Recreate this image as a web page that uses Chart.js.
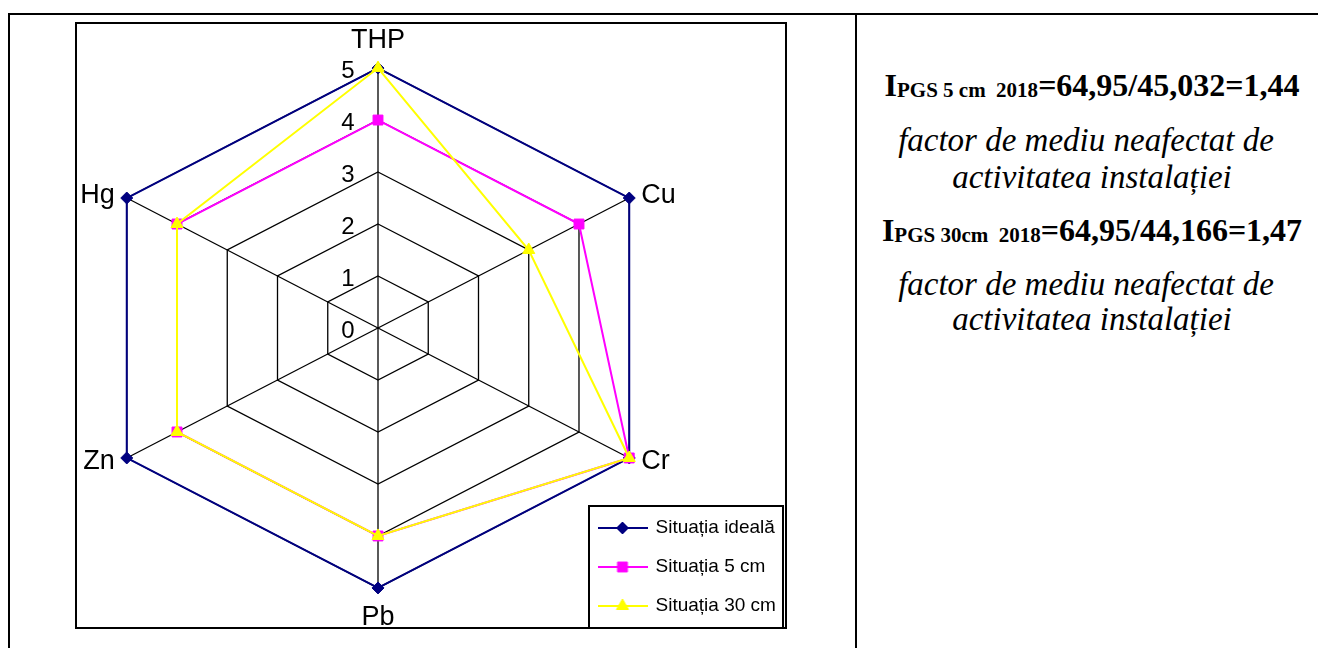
<!DOCTYPE html>
<html>
<head>
<meta charset="utf-8">
<script src="https://cdn.jsdelivr.net/npm/chart.js@4.4.1/dist/chart.umd.min.js"></script>
<style>
  body { margin: 0; width: 1318px; height: 648px; overflow: hidden; position: relative; background: #fff; }
  .rule { position: absolute; background: #000; }
  #frame { position: absolute; left: 75px; top: 22px; width: 708px; height: 603px; border: 2px solid #000; }
  #legendFrame { position: absolute; left: 588px; top: 505px; width: 192px; height: 120px; border: 2px solid #000; }
  #chart { position: absolute; left: 12px; top: 0; z-index: 2; }
  .note { position: absolute; left: 856px; width: 472px; text-align: center; white-space: pre;
          font-family: "Liberation Serif", "Times New Roman", serif; font-size: 32px; line-height: 32px; color: #000; }
  .note.formula { font-weight: bold; }
  .note.formula span { font-size: 21px; position: relative; top: 1px; }
  .note.comment { font-style: italic; font-size: 33px; }
  .note.wide { left: 850px; }
</style>
</head>
<body>
<div class="rule" style="left:8px; top:13px; width:1310px; height:2px;"></div>
<div class="rule" style="left:8px; top:13px; width:2px; height:635px;"></div>
<div class="rule" style="left:855px; top:13px; width:2px; height:635px;"></div>
<div id="frame"></div>
<div id="legendFrame"></div>
<canvas id="chart" width="774" height="648"></canvas>

<div class="note formula" style="top:69px;">I<span>PGS 5 cm  2018</span>=64,95/45,032=1,44</div>
<div class="note comment wide" style="top:124px;">factor de mediu neafectat de</div>
<div class="note comment" style="top:161px;">activitatea instalației</div>
<div class="note formula" style="top:214px;">I<span>PGS 30cm  2018</span>=64,95/44,166=1,47</div>
<div class="note comment wide" style="top:268px;">factor de mediu neafectat de</div>
<div class="note comment" style="top:303px;">activitatea instalației</div>

<script>
const categories = ['THP', 'Cu', 'Cr', 'Pb', 'Zn', 'Hg'];
const seriesNames = ['Situația ideală', 'Situația 5 cm', 'Situația 30 cm'];
const idealValues = [5, 5, 5, 5, 5, 5];
const depth5Values = [4, 4, 5, 4, 4, 4];
const depth30Values = [5, 3, 5, 4, 4, 4];
const tickLabels = ['0', '1', '2', '3', '4', '5'];

const colors = ['#000080', '#ff00ff', '#ffff00'];
const markers = ['rectRot', 'rect', 'triangle'];
const markerSizes = [6, 7, 7];
const sansFont = '"Liberation Sans", Arial, sans-serif';

// Excel draws this radar wider than tall, so stretch the scale horizontally
const xStretch = 1.116;
const RadialScale = Chart.registry.getScale('radialLinear');
const basePointPosition = RadialScale.prototype.getPointPosition;
RadialScale.prototype.getPointPosition = function (index, distance, additionalAngle) {
  const isLabel = distance > this.drawingArea + 0.5;
  const p = basePointPosition.call(this, index, isLabel ? this.drawingArea : distance, additionalAngle);
  let x = this.xCenter + (p.x - this.xCenter) * xStretch;
  let y = p.y;
  if (isLabel) {
    // place category names the way Excel does: beside the side vertices, above/below the top/bottom ones
    const deg = Math.round((p.angle * 180 / Math.PI + 450) % 360);
    if (deg === 0) y -= 11.5;
    else if (deg === 180) y += 14;
    else {
      x += deg < 180 ? 12 : -12;
      y += (deg < 90 || deg > 270) ? 13 : -11.5;
    }
  }
  return { x, y, angle: p.angle };
};

function legendIcon(i) {
  const c = document.createElement('canvas');
  c.width = 50; c.height = 16;
  const g = c.getContext('2d');
  g.strokeStyle = colors[i];
  g.fillStyle = colors[i];
  g.lineWidth = 2;
  g.beginPath(); g.moveTo(0, 8); g.lineTo(50, 8); g.stroke();
  g.lineWidth = 1;
  Chart.helpers.drawPoint(g, { pointStyle: markers[i], radius: markerSizes[i], rotation: 0, borderWidth: 1 }, 25, 8);
  return c;
}
const legendIcons = [0, 1, 2].map(legendIcon);

const legendPlacer = {
  id: 'legendPlacer',
  afterLayout(chart) {
    const lg = chart.legend;
    lg.left = 567; lg.top = 498.5;
    lg.right = 774; lg.bottom = 648;
    lg.width = lg.right - lg.left; lg.height = lg.bottom - lg.top;
  }
};

const seriesValues = [idealValues, depth5Values, depth30Values];

new Chart(document.getElementById('chart'), {
  type: 'radar',
  data: {
    labels: categories,
    datasets: seriesValues.map((values, i) => ({
      label: seriesNames[i],
      data: values,
      borderColor: colors[i],
      backgroundColor: colors[i],
      pointBackgroundColor: colors[i],
      pointBorderColor: colors[i],
      pointStyle: markers[i],
      pointRadius: markerSizes[i],
      pointBorderWidth: 1,
      borderWidth: 2,
      fill: false,
      tension: 0,
      order: 3 - i
    }))
  },
  options: {
    responsive: false,
    animation: false,
    layout: { padding: { left: 6, right: 48, top: 13, bottom: 1 } },
    plugins: {
      tooltip: { enabled: false },
      legend: {
        position: 'chartArea',
        align: 'start',
        labels: {
          usePointStyle: true,
          pointStyleWidth: 47,
          padding: 20,
          color: '#000',
          font: { family: sansFont, size: 19 },
          sort: (a, b) => a.datasetIndex - b.datasetIndex,
          generateLabels(chart) {
            const items = Chart.defaults.plugins.legend.labels.generateLabels(chart);
            items.forEach(item => { item.pointStyle = legendIcons[item.datasetIndex]; });
            return items;
          }
        }
      }
    },
    scales: {
      r: {
        // a hair below zero so Chart.js also prints the "0" tick label
        min: -0.000001,
        max: 5,
        afterBuildTicks(scale) {
          scale.ticks = tickLabels.map(t => ({ value: Number(t) }));
        },
        grid: { color: '#000', lineWidth: 1.3 },
        angleLines: { color: '#000', lineWidth: 1.3 },
        pointLabels: {
          padding: 1,
          color: '#000',
          font: { family: sansFont, size: 27, lineHeight: 1.15 }
        },
        ticks: {
          stepSize: 1,
          color: '#000',
          showLabelBackdrop: false,
          backdropPadding: 0,
          // empty first line nudges the number a few px below its ring, as in Excel
          font: { family: sansFont, size: 24, lineHeight: 0.125 },
          callback: (value, index) => ['', tickLabels[index] + '         ']
        }
      }
    }
  },
  plugins: [legendPlacer]
});
</script>
</body>
</html>
